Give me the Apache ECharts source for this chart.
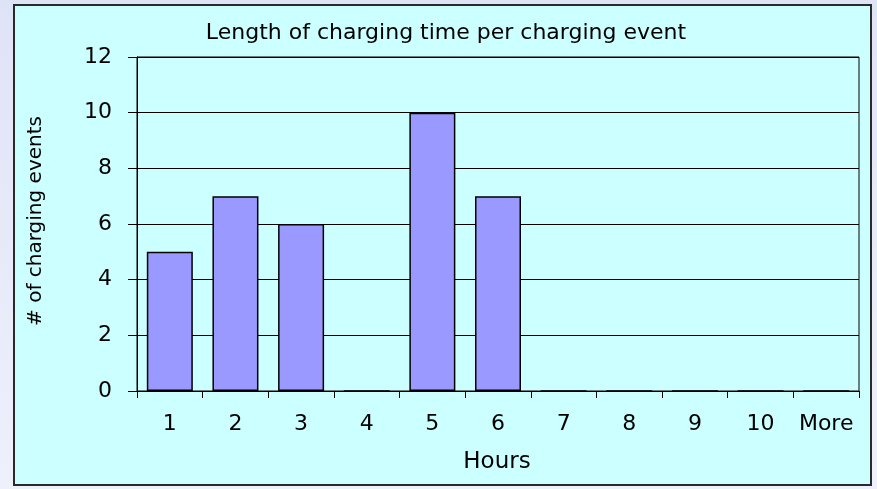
<!DOCTYPE html>
<html>
<head>
<meta charset="utf-8">
<script src="https://cdn.jsdelivr.net/npm/echarts@6/dist/echarts.min.js"></script>
<style>
  html, body { margin: 0; padding: 0; }
  body { background: linear-gradient(to bottom, #dfe3f6, #eef1fb); }
  #chart { width: 877px; height: 489px; }
</style>
</head>
<body>
<div id="chart"></div>
<script>
// histogram bins and counts
const hours = ['1', '2', '3', '4', '5', '6', '7', '8', '9', '10', 'More'];
const events = [5, 7, 6, 0, 10, 7, 0, 0, 0, 0, 0];
const yTicks = { min: 0, max: 12, step: 2 };

const titleText = 'Length of charging time per charging event';
const xTitle = 'Hours';
const yTitle = '# of charging events';

const font = 'DejaVu Sans';
const myChart = echarts.init(document.getElementById('chart'));

const option = {
    animation: false,
    textStyle: { fontFamily: font },
    grid: {
        left: 137,
        top: 57,
        right: 18,
        bottom: 98,
        show: true,
        borderColor: '#000',
        borderWidth: 1,
        backgroundColor: 'transparent'
    },
    graphic: [
        {
            type: 'rect',
            z: -10,
            shape: { x: 14, y: 5, width: 857, height: 480 },
            style: { fill: '#ccffff', stroke: '#2a2a2a', lineWidth: 2 }
        },
        {
            type: 'text',
            style: {
                x: 446, y: 33, text: titleText, fill: '#000',
                font: '22px "DejaVu Sans"', textAlign: 'center', textVerticalAlign: 'middle'
            }
        },
        {
            type: 'text',
            style: {
                x: 497, y: 462, text: xTitle, fill: '#000',
                font: '23px "DejaVu Sans"', textAlign: 'center', textVerticalAlign: 'middle'
            }
        },
        {
            type: 'text',
            x: 36, y: 221, rotation: Math.PI / 2,
            style: {
                x: 0, y: 0, text: yTitle, fill: '#000',
                font: '20px "DejaVu Sans"', textAlign: 'center', textVerticalAlign: 'middle'
            }
        }
    ],
    xAxis: {
        type: 'category',
        data: hours,
        axisLine: { show: true, lineStyle: { color: '#000', width: 1 } },
        axisTick: { show: true, length: 7, lineStyle: { color: '#000' } },
        axisLabel: { color: '#000', fontSize: 22, fontFamily: font, margin: 22, interval: 0 }
    },
    yAxis: {
        type: 'value',
        min: yTicks.min,
        max: yTicks.max,
        interval: yTicks.step,
        axisLine: { show: true, lineStyle: { color: '#000', width: 1 } },
        axisTick: { show: true, length: 9, lineStyle: { color: '#000' } },
        axisLabel: { color: '#000', fontSize: 22, fontFamily: font, margin: 25 },
        splitLine: { show: true, lineStyle: { color: '#000', width: 1 } }
    },
    series: [
        {
            type: 'bar',
            data: events,
            barWidth: 46,
            itemStyle: { color: '#9999ff', borderColor: '#000', borderWidth: 1.5 }
        }
    ]
};

myChart.setOption(option);
</script>
</body>
</html>
